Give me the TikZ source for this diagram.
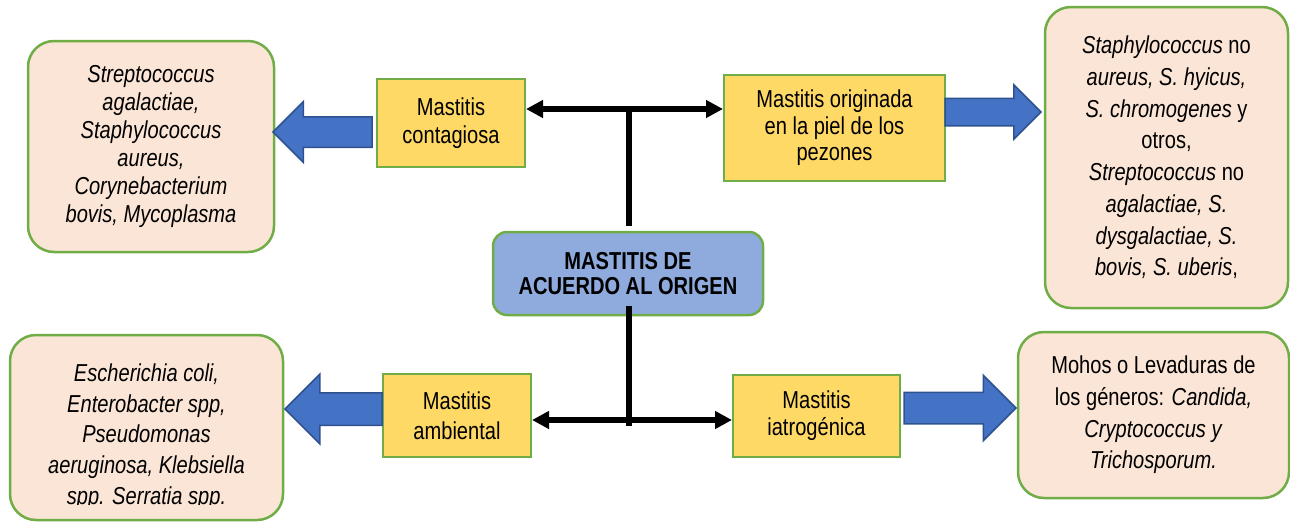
\documentclass[tikz,border=0pt]{standalone}
\usepackage{fontspec}
\setmainfont{Liberation Sans}[FakeStretch=0.82]
\usetikzlibrary{shapes.arrows,arrows.meta}
\definecolor{pinkfill}{HTML}{FBE5D6}
\definecolor{edgegreen}{HTML}{70AD47}
\definecolor{yellowfill}{HTML}{FFD966}
\definecolor{centerblue}{HTML}{8FAADC}
\definecolor{arrowblue}{HTML}{4472C4}
\definecolor{arrowedge}{HTML}{2F528F}
\newcommand{\fsz}[1]{\fontsize{24.5}{#1}\selectfont}
\begin{document}
\begin{tikzpicture}[x=1pt,y=-1pt,
  pinkbox/.style={draw=edgegreen,line width=2.5pt,fill=pinkfill,rounded corners=26pt,inner sep=0pt,align=center},
  yellowbox/.style={draw=edgegreen,line width=2pt,fill=yellowfill,inner sep=0pt,align=center},
  centerbox/.style={draw=edgegreen,line width=2.5pt,fill=centerblue,rounded corners=14pt,inner sep=0pt,align=center,font=\fsz{25}\bfseries},
  blockarrow/.style={single arrow,draw=arrowedge,line width=1.5pt,fill=arrowblue,inner xsep=0pt,outer sep=0pt,single arrow tip angle=90,single arrow head indent=0pt,anchor=tip},
  txt/.style={align=center,inner sep=0pt},
  conn/.style={line width=5.5pt,draw=black},
  bothtips/.style={{Triangle[length=17pt,width=17pt]}-{Triangle[length=17pt,width=17pt]}}
]
\useasboundingbox (0,0) rectangle (1290,522);

% pink result boxes
\node[pinkbox,minimum width=246pt,minimum height=211pt,font=\fsz{28}\itshape] (tl) at (151,146.5)
  {Streptococcus\\agalactiae,\\Staphylococcus\\aureus,\\Corynebacterium\\bovis, Mycoplasma};
\node[pinkbox,minimum width=243pt,minimum height=301pt,font=\fsz{31.7}] (tr) at (1166.5,157.5)
  {\textit{Staphylococcus} no\\\textit{aureus, S. hyicus,}\\\textit{S. chromogenes} y\\otros,\\\textit{Streptococcus} no\\\textit{agalactiae, S.}\\\textit{dysgalactiae, S.}\\\textit{bovis, S. uberis},};
\node[pinkbox,minimum width=273pt,minimum height=185pt] (bl) at (146.5,427.5) {};
\begin{scope}
  \clip (0,0) rectangle (300,504);
  \node[txt,font=\fsz{30.7}\itshape] (bltext) at (146.5,436.5)
    {Escherichia coli,\\Enterobacter spp,\\Pseudomonas\\aeruginosa, Klebsiella\\spp. Serratia spp.};
\end{scope}
\node[pinkbox,minimum width=271pt,minimum height=166pt,font=\fsz{31.7}] (br) at (1153.5,415)
  {Mohos o Levaduras de\\los géneros: \textit{Candida,}\\\textit{Cryptococcus y}\\\textit{Trichosporum.}};

% yellow category boxes
\node[yellowbox,minimum width=148pt,minimum height=88pt,font=\fsz{28}] (cont) at (451,123) {Mastitis\\contagiosa};
\node[yellowbox,minimum width=221pt,minimum height=106pt,font=\fsz{26.5}] (orig) at (834.5,128) {Mastitis originada\\en la piel de los\\pezones};
\node[yellowbox,minimum width=148pt,minimum height=83pt,font=\fsz{30}] (amb) at (457,415.5) {Mastitis\\ambiental};
\node[yellowbox,minimum width=167pt,minimum height=82pt,font=\fsz{27}] (iat) at (816.5,416) {Mastitis\\iatrogénica};

% central box
\node[centerbox,minimum width=270pt,minimum height=83pt] (ctr) at (628,273.5) {MASTITIS DE\\ACUERDO AL ORIGEN};

% black connectors
\coordinate (topj) at (629,109);
\coordinate (botj) at (629,420);
\draw[conn,bothtips] (cont.east |- topj) -- (orig.west |- topj);
\draw[conn] (topj) -- ([yshift=5pt]topj |- ctr.north);
\draw[conn,bothtips] (amb.east |- botj) -- (iat.west |- botj);
\draw[conn] ([yshift=10pt]botj |- ctr.south) -- ([yshift=-6pt]botj);

% blue block arrows (placed by their tips)
\node[blockarrow,shape border rotate=180,minimum height=99pt,inner ysep=14.5pt,single arrow head extend=15pt] (a1) at (273,132) {};
\node[blockarrow,minimum height=96pt,inner ysep=13pt,single arrow head extend=13.5pt] (a2) at (1041,112) {};
\node[blockarrow,shape border rotate=180,minimum height=97pt,inner ysep=15.5pt,single arrow head extend=18.5pt] (a3) at (285,409) {};
\node[blockarrow,minimum height=112pt,inner ysep=15pt,single arrow head extend=17pt] (a4) at (1016,408) {};
\end{tikzpicture}
\end{document}
